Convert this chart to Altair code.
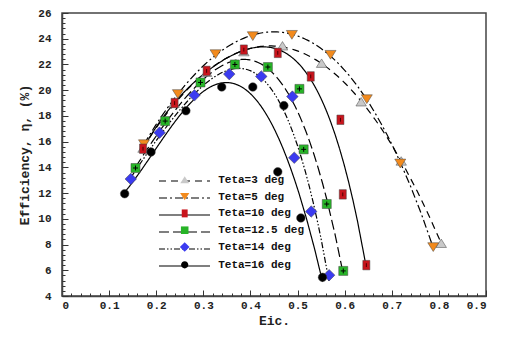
import altair as alt
import pandas as pd

labels = ["Teta=3 deg", "Teta=5 deg", "Teta=10 deg", "Teta=12.5 deg", "Teta=14 deg", "Teta=16 deg"]

x3 = [0.172, 0.238, 0.307, 0.386, 0.468, 0.551, 0.635, 0.720, 0.805]
y3 = [15.5, 19.0, 21.4, 23.0, 23.45, 22.1, 19.1, 14.5, 8.1]
x5 = [0.174, 0.246, 0.326, 0.405, 0.488, 0.570, 0.647, 0.718, 0.788]
y5 = [15.8, 19.7, 22.8, 24.2, 24.3, 22.75, 19.3, 14.3, 7.8]
x10 = [0.172, 0.239, 0.307, 0.386, 0.458, 0.528, 0.591, 0.596, 0.646]
y10 = [15.45, 19.0, 21.5, 23.15, 22.9, 21.07, 17.7, 11.9, 6.4]
x125 = [0.156, 0.219, 0.294, 0.367, 0.437, 0.504, 0.513, 0.562, 0.597]
y125 = [13.95, 17.6, 20.6, 22.0, 21.8, 20.1, 15.4, 11.15, 5.95]
x14 = [0.146, 0.207, 0.281, 0.355, 0.423, 0.489, 0.493, 0.529, 0.567]
y14 = [13.1, 16.7, 19.6, 21.25, 21.07, 19.5, 14.75, 10.57, 5.62]
x16 = [0.133, 0.189, 0.263, 0.339, 0.405, 0.471, 0.458, 0.507, 0.553]
y16 = [11.95, 15.2, 18.4, 20.25, 20.25, 18.8, 13.65, 10.07, 5.45]

series_x = [x3, x5, x10, x125, x14, x16]
series_y = [y3, y5, y10, y125, y14, y16]

fills = ["#c9c9c9", "#f28a1d", "#c8141c", "#27b427", "#3b3bf0", "#000000"]
shapes = [
    "M0,-0.77L0.95,0.77L-0.95,0.77Z",
    "M0,0.8L1,-0.8L-1,-0.8Z",
    "M-0.64,-0.86H0.64V0.86H-0.64Z",
    "M-0.82,-0.82H0.82V0.82H-0.82Z",
    "M0,-1.05L1.05,0L0,1.05L-1.05,0Z",
    "M-0.78,0A0.78,0.78 0 1,0 0.78,0A0.78,0.78 0 1,0 -0.78,0Z",
]
dashes = [[7, 5], [8, 3, 2, 3], [1, 0], [10, 4], [6, 2, 1.5, 2, 1.5, 2], [1, 0]]
dash_keys = [lab + " " for lab in labels]

x_major = [0, 0.1, 0.2, 0.3, 0.4, 0.5, 0.6, 0.7, 0.8, 0.9]
x_minor = [round(i * 0.02, 2) for i in range(46)]
y_major = [4, 6, 8, 10, 12, 14, 16, 18, 20, 22, 24, 26]
y_minor = [round(4 + i * 0.4, 1) for i in range(56)]

rows = []
for lab, xs, ys in zip(labels, series_x, series_y):
    for a, b in zip(xs, ys):
        rows.append({"label": lab, "x": a, "y": b})
df = pd.DataFrame(rows)

FONT = "Liberation Mono"
FRAME = "#444444"
MSIZE = 121

xscale = alt.Scale(domain=[0, 0.9], nice=False, zero=False)
yscale = alt.Scale(domain=[4, 26], nice=False, zero=False)

x_axis_major = alt.Axis(
    orient="bottom", values=x_major, grid=False, title="Eic.",
    labelExpr="datum.value == 0 ? '0' : format(datum.value, '.1f')",
    tickSize=alt.ExprRef(expr="-6"), tickColor="#333", tickWidth=1,
    labelPadding=9, labelFont=FONT, labelFontSize=11, labelFontWeight="bold", labelColor="#222",
    titleFont=FONT, titleFontSize=13, titleFontWeight="bold", titleColor="#222", titlePadding=4,
    domainColor=FRAME, domainWidth=1.5,
)
y_axis_major = alt.Axis(
    orient="left", values=y_major, grid=False, title="Efficiency, η, (%)",
    tickSize=alt.ExprRef(expr="-6"), tickColor="#333", tickWidth=1,
    labelPadding=17, labelFont=FONT, labelFontSize=11, labelFontWeight="bold", labelColor="#222",
    titleFont=FONT, titleFontSize=13, titleFontWeight="bold", titleColor="#222", titlePadding=6,
    domainColor=FRAME, domainWidth=1.5,
)
x_axis_minor = alt.Axis(
    orient="bottom", values=x_minor, grid=False, title=None, labels=False, domain=False,
    tickSize=alt.ExprRef(expr="-3"), tickColor="#333", tickWidth=1,
)
y_axis_minor = alt.Axis(
    orient="left", values=y_minor, grid=False, title=None, labels=False, domain=False,
    tickSize=alt.ExprRef(expr="-3"), tickColor="#333", tickWidth=1,
)

LX, LY, CH = 96, 159.8, 16.4

leg_lines = alt.Legend(
    orient="none", legendX=LX, legendY=LY, title=None,
    symbolType="stroke", symbolSize=2601, symbolStrokeColor="black", symbolStrokeWidth=1.2,
    labelExpr="''", labelFont=FONT, labelFontSize=11, labelOffset=0,
    clipHeight=CH, rowPadding=0, padding=0,
)
leg_pts = alt.Legend(
    orient="none", legendX=LX, legendY=LY + 1.5, title=None,
    symbolSize=85, symbolStrokeWidth=0.5, symbolStrokeColor="#444",
    symbolOffset=21.2, labelOffset=28,
    labelFont=FONT, labelFontSize=11, labelFontWeight="bold", labelColor="#111",
    rowPadding=4.8, padding=0,
)

base = alt.Chart(df)

lines = base.transform_regression(
    "x", "y", groupby=["label"], method="poly", order=4
).transform_calculate(
    dk="datum.label + ' '"
).mark_line(color="black", strokeWidth=1.2).encode(
    x=alt.X("x:Q", scale=xscale, axis=x_axis_major),
    y=alt.Y("y:Q", scale=yscale, axis=y_axis_major),
    strokeDash=alt.StrokeDash("dk:N", scale=alt.Scale(domain=dash_keys, range=dashes), legend=leg_lines),
)

points = base.mark_point(filled=True, opacity=1, stroke="#444", strokeWidth=0.5, size=MSIZE).encode(
    x=alt.X("x:Q", scale=xscale, axis=x_axis_minor),
    y=alt.Y("y:Q", scale=yscale, axis=y_axis_minor),
    fill=alt.Fill("label:N", scale=alt.Scale(domain=labels, range=fills), legend=leg_pts),
    shape=alt.Shape("label:N", scale=alt.Scale(domain=labels, range=shapes), legend=leg_pts),
)

plus = base.transform_filter(alt.datum.label == "Teta=12.5 deg").mark_point(
    shape="M-0.55,0H0.55M0,-0.55V0.55", size=81, stroke="black", strokeWidth=1, filled=False, opacity=1
).encode(x=alt.X("x:Q", axis=None), y=alt.Y("y:Q", axis=None))

tick = base.transform_filter(alt.datum.label == "Teta=10 deg").mark_point(
    shape="M0,-0.4V0.4", size=90, stroke="#4a0000", strokeWidth=1, filled=False, opacity=1
).encode(x=alt.X("x:Q", axis=None), y=alt.Y("y:Q", axis=None))

chart = alt.layer(lines, points, plus, tick).resolve_axis(
    x="independent", y="independent"
).properties(
    width=424, height=283,
    autosize=alt.AutoSizeParams(type="none"),
    padding={"left": 54, "top": 5, "right": 11, "bottom": 31},
).configure_view(stroke=FRAME, strokeWidth=1.5)

chart.save("out.html", embed_options={"renderer": "svg", "actions": False})
